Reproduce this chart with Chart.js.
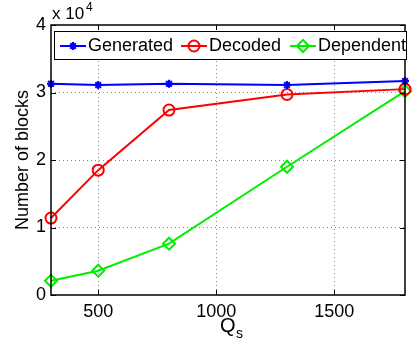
<!DOCTYPE html>
<html>
<head>
<meta charset="utf-8">
<script src="https://cdn.jsdelivr.net/npm/chart.js"></script>
<style>
  html, body { margin: 0; padding: 0; background: #fff; }
  #wrap { width: 413px; height: 345px; }
</style>
</head>
<body>
<div id="wrap"><canvas id="blocksChart" width="413" height="345"></canvas></div>
<script>
const qs = [300, 500, 800, 1300, 1800];
const generated = [31300, 31100, 31300, 31100, 31700];
const decoded = [11400, 18500, 27400, 29700, 30500];
const dependent = [2100, 3600, 7600, 19000, 30200];
const xTicks = [500, 1000, 1500];
const yTicks = [0, 10000, 20000, 30000, 40000];

const FONT = "'Liberation Sans', Arial, Helvetica, sans-serif";

function points(vals) {
  return qs.map((q, i) => ({ x: q, y: vals[i] }));
}

// draws the frame, inward ticks, legend box and axis labels the way MATLAB does
const matlabLook = {
  id: "matlabLook",
  afterDraw(chart) {
    const ctx = chart.ctx;
    const a = chart.chartArea;
    const xs = chart.scales.x;
    const ys = chart.scales.y;
    ctx.save();

    // inward ticks
    ctx.strokeStyle = "#000";
    ctx.lineWidth = 1;
    ctx.beginPath();
    xTicks.forEach(t => {
      const px = Math.round(xs.getPixelForValue(t)) + 0.5;
      ctx.moveTo(px, a.bottom); ctx.lineTo(px, a.bottom - 5);
      ctx.moveTo(px, a.top); ctx.lineTo(px, a.top + 5);
    });
    yTicks.forEach(t => {
      const py = Math.round(ys.getPixelForValue(t)) + 0.5;
      ctx.moveTo(a.left, py); ctx.lineTo(a.left + 5, py);
      ctx.moveTo(a.right, py); ctx.lineTo(a.right - 5, py);
    });
    ctx.stroke();

    // frame
    ctx.lineWidth = 1.5;
    ctx.strokeRect(a.left, a.top, a.right - a.left, a.bottom - a.top);

    // legend
    const lx = a.left + 3, ly = a.top + 6, lw = a.right - a.left - 2, lh = 28;
    ctx.fillStyle = "#fff";
    ctx.fillRect(lx, ly, lw, lh);
    ctx.lineWidth = 1;
    ctx.strokeStyle = "#000";
    ctx.strokeRect(lx + 0.5, ly + 0.5, lw, lh);
    const starts = [60, 181, 290];
    ctx.font = "18px " + FONT;
    ctx.textBaseline = "middle";
    ctx.textAlign = "left";
    chart.data.datasets.forEach((ds, i) => {
      const x0 = starts[i], cy = ly + lh / 2 + 1;
      ctx.strokeStyle = ds.borderColor;
      ctx.lineWidth = 2;
      ctx.beginPath();
      ctx.moveTo(x0, cy); ctx.lineTo(x0 + 26, cy);
      ctx.stroke();
      ctx.fillStyle = ds.backgroundColor;
      Chart.helpers.drawPoint(ctx, {
        pointStyle: ds.pointStyle,
        radius: ds.pointRadius,
        rotation: 0,
        borderWidth: ds.borderWidth
      }, x0 + 13, cy);
      ctx.fillStyle = "#000";
      ctx.fillText(ds.label, x0 + 28, cy);
    });

    // exponent label
    ctx.fillStyle = "#000";
    ctx.textBaseline = "alphabetic";
    ctx.font = "17px " + FONT;
    ctx.fillText("x 10", a.left + 1, a.top - 6);
    ctx.font = "12px " + FONT;
    ctx.fillText("4", a.left + 35, a.top - 14);

    // x title Q_s
    ctx.font = "20px " + FONT;
    ctx.textAlign = "left";
    ctx.fillText("Q", 220, 332);
    ctx.font = "14px " + FONT;
    ctx.fillText("s", 236, 338);

    // y title
    ctx.font = "18px " + FONT;
    ctx.translate(28, (a.top + a.bottom) / 2);
    ctx.rotate(-Math.PI / 2);
    ctx.textAlign = "center";
    ctx.fillText("Number of blocks", 0, 0);
    ctx.restore();
  }
};

new Chart(document.getElementById("blocksChart"), {
  type: "line",
  data: {
    datasets: [
      {
        label: "Generated",
        data: points(generated),
        borderColor: "#0000ff",
        backgroundColor: "#0000ff",
        pointStyle: "star",
        pointRadius: 4,
        borderWidth: 2,
        tension: 0
      },
      {
        label: "Decoded",
        data: points(decoded),
        borderColor: "#ff0000",
        backgroundColor: "rgba(0,0,0,0)",
        pointStyle: "circle",
        pointRadius: 5.5,
        borderWidth: 2,
        tension: 0
      },
      {
        label: "Dependent",
        data: points(dependent),
        borderColor: "#00ee00",
        backgroundColor: "rgba(0,0,0,0)",
        pointStyle: "rectRot",
        pointRadius: 6,
        borderWidth: 2,
        tension: 0
      }
    ]
  },
  options: {
    responsive: false,
    animation: false,
    clip: false,
    layout: { padding: { top: 25, right: 6, left: 0, bottom: 0 } },
    plugins: {
      legend: { display: false },
      tooltip: { enabled: false }
    },
    scales: {
      x: {
        type: "linear",
        min: 300,
        max: 1800,
        afterBuildTicks(scale) { scale.ticks = xTicks.map(v => ({ value: v })); },
        afterFit(scale) { scale.height = 50; },
        border: { display: false, dash: [1, 3] },
        grid: { color: "#888", drawTicks: false },
        ticks: { padding: 6, color: "#000", font: { size: 18, family: FONT }, callback: v => String(v) }
      },
      y: {
        min: 0,
        max: 40000,
        afterBuildTicks(scale) { scale.ticks = yTicks.map(v => ({ value: v })); },
        afterFit(scale) { scale.width = 51; },
        border: { display: false, dash: [1, 3] },
        grid: {
          color: c => (c.tick && (c.tick.value === 0 || c.tick.value === 40000)) ? "rgba(0,0,0,0)" : "#888",
          drawTicks: false
        },
        ticks: {
          padding: 5,
          color: "#000",
          font: { size: 18, family: FONT },
          callback: v => String(v / 10000)
        }
      }
    }
  },
  plugins: [matlabLook]
});
</script>
</body>
</html>
